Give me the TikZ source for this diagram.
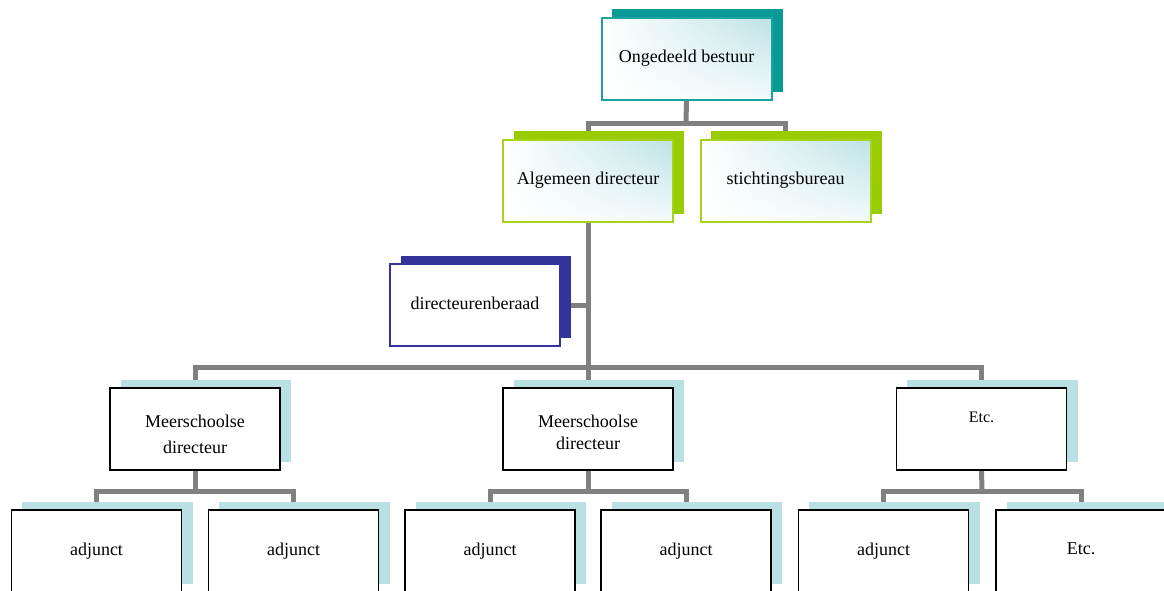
\documentclass[tikz,border=0pt]{standalone}
\usepackage{fontspec}
\setmainfont{Liberation Serif}
\usetikzlibrary{shadings}
\definecolor{tealbox}{HTML}{0A9A96}
\definecolor{tealedge}{HTML}{1AA3A0}
\definecolor{greenbox}{HTML}{99CC00}
\definecolor{greenedge}{HTML}{A6D41C}
\definecolor{bluebox}{HTML}{333399}
\definecolor{paleshadow}{HTML}{B9E0E3}
\definecolor{iceblue}{HTML}{BDE2E5}
\definecolor{icepale}{HTML}{F3FAFB}
\definecolor{linkgray}{HTML}{808080}
\tikzset{
  conn/.style={draw=linkgray, line width=5pt},
  unit/.style={rectangle, minimum width=170pt, minimum height=82pt, inner sep=2pt,
    font=\fontsize{18}{25}\selectfont, align=center, text=black},
  glossy/.style={unit,
    upper left=white, lower left=white, upper right=iceblue, lower right=icepale},
  topbox/.style={glossy, postaction={draw=tealedge, line width=2pt}},
  greenunit/.style={glossy, postaction={draw=greenedge, line width=2pt}},
  councilbox/.style={unit, fill=white, draw=bluebox, line width=1.4pt},
  plainbox/.style={unit, fill=white, draw=black, line width=1.8pt},
  twoline/.style={align=center, inner sep=0pt, font=\fontsize{18}{#1}\selectfont},
}
% offset backing card behind each box
\newcommand{\backcard}[2]{%
  \fill[#2] ([shift={(11pt,8pt)}]#1.south west) rectangle ([shift={(11pt,8pt)}]#1.north east);}
\begin{document}
\begin{tikzpicture}[x=1pt, y=-1pt]
\useasboundingbox (0,0) rectangle (1164,590);

% positions of the boxes
\coordinate (pTop) at (686.5,58.5);
\coordinate (pAlg) at (588,180.5);
\coordinate (pSti) at (785.5,180.5);
\coordinate (pDir) at (475,305);
\coordinate (pMs1) at (195,429);
\coordinate (pMs2) at (588,429);
\coordinate (pMs3) at (981.5,429);

% junction points of the tree lines
\coordinate (j1) at (686,123);
\coordinate (j2) at (588,367);
\coordinate (j3) at (195,491);
\coordinate (j4) at (588,491);
\coordinate (j5) at (982,491);

% boxes laid out invisibly first so the lines can use their anchors
\path (pTop) node[unit] (top) {}
      (pAlg) node[unit] (alg) {}
      (pSti) node[unit] (sti) {}
      (pDir) node[unit] (dir) {}
      (pMs1) node[unit] (ms1) {}
      (pMs2) node[unit] (ms2) {}
      (pMs3) node[unit] (ms3) {}
      (96.5,551) node[unit] (a1) {}
      (293.5,551) node[unit] (a2) {}
      (490,551) node[unit] (a3) {}
      (686,551) node[unit] (a4) {}
      (883.5,551) node[unit] (a5) {}
      (1081,551) node[unit] (a6) {};

% tree lines
\draw[conn] (top.south) -- (j1);
\draw[conn] (alg.north) |- (j1) -| (sti.north);
\draw[conn] (alg.south) -- (ms2.north);
\draw[conn] (dir.east) -- (dir.east -| alg.south);
\draw[conn] (ms1.north) |- (j2) -| (ms3.north);
\draw[conn] (ms1.south) -- (j3);
\draw[conn] (a1.north) |- (j3) -| (a2.north);
\draw[conn] (ms2.south) -- (j4);
\draw[conn] (a3.north) |- (j4) -| (a4.north);
\draw[conn] (ms3.south) -- (j5);
\draw[conn] (a5.north) |- (j5) -| (a6.north);

% backing cards
\backcard{top}{tealbox}
\backcard{alg}{greenbox}
\backcard{sti}{greenbox}
\backcard{dir}{bluebox}
\backcard{ms1}{paleshadow}
\backcard{ms2}{paleshadow}
\backcard{ms3}{paleshadow}
\backcard{a1}{paleshadow}
\backcard{a2}{paleshadow}
\backcard{a3}{paleshadow}
\backcard{a4}{paleshadow}
\backcard{a5}{paleshadow}
\backcard{a6}{paleshadow}

% visible boxes
\node[topbox] at (top) {\raisebox{3pt}{Ongedeeld bestuur}};
\node[greenunit] at (alg) {Algemeen directeur};
\node[greenunit] at (sti) {stichtingsbureau};
\node[councilbox] at (dir) {\raisebox{3pt}{directeurenberaad}};
\node[plainbox] at (ms1) {};
\node[twoline=26] (ms1txt) at ([yshift=-5pt]ms1.center) {Meerschoolse\\directeur};
\node[plainbox] at (ms2) {};
\node[twoline=22] (ms2txt) at ([yshift=-3pt]ms2.center) {Meerschoolse\\directeur};
\node[plainbox] at (ms3) {};
\node[font=\fontsize{16}{20}\selectfont] (etcTop) at (981.5,417) {Etc.};
\node[plainbox] at (a1) {\raisebox{4pt}{adjunct}};
\node[plainbox] at (a2) {\raisebox{4pt}{adjunct}};
\node[plainbox] at (a3) {\raisebox{4pt}{adjunct}};
\node[plainbox] at (a4) {\raisebox{4pt}{adjunct}};
\node[plainbox] at (a5) {\raisebox{4pt}{adjunct}};
\node[plainbox] at (a6) {\raisebox{4pt}{Etc.}};
\end{tikzpicture}
\end{document}
